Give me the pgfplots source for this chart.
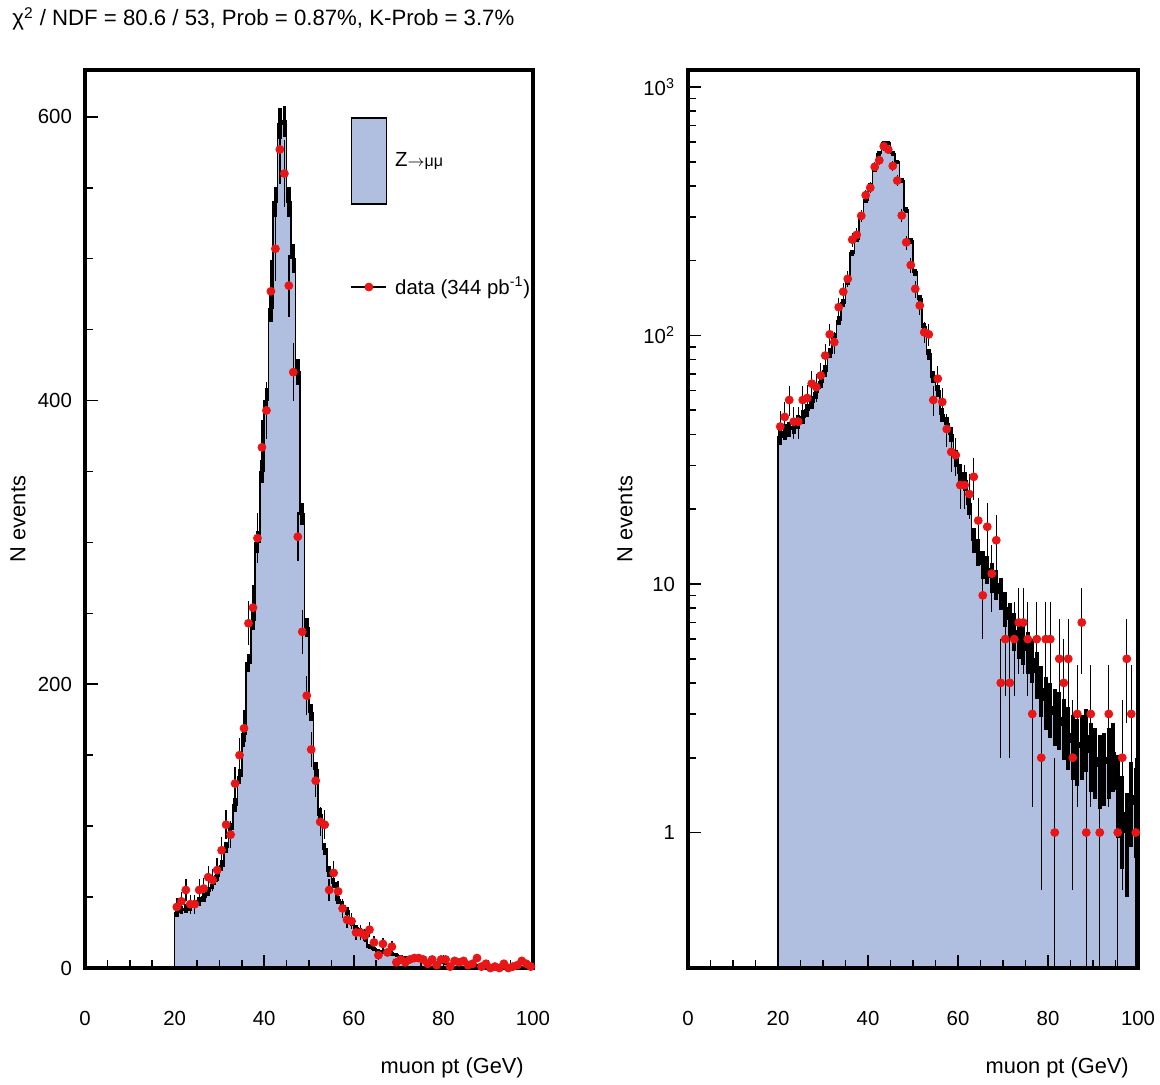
\documentclass[border=0pt]{standalone}
\usepackage{fontspec}
\setmainfont{Liberation Sans}
\usepackage{pgfplots}
\usepackage{pgfplotstable}
\pgfplotsset{compat=1.18}
\definecolor{mcblue}{RGB}{176,190,224}
\definecolor{datared}{RGB}{232,22,22}

\pgfplotstableread{
x mc data
20 39 43
21 41 47
22 42 55
23 43 45
24 45 45
25 47 55
26 50 56
27 54 64
28 59 62
29 65 69
30 72 83
31 85 101
32 98 94
33 115 130
34 135 150
35 165 169
36 215 243
37 245 254
38 300 303
39 350 367
40 400 393
41 465 477
42 540 507
43 595 577
44 597 560
45 540 481
46 500 420
47 420 304
48 320 237
49 240 192
50 180 154
51 140 132
52 108 103
53 84 101
54 68 55
55 60 67
56 48 54
57 44 42
58 40 34
59 32 33
60 28 25
61 26 25
62 21 23
63 15 27
64 13.5 18
65 12 9
66 11.5 17
67 10.7 11
68 10 15
69 9.2 4
70 8 6
71 7.2 4
72 6.5 6
73 6.1 7
74 5.8 7
75 5.4 6
76 5.0 3
77 4.4 6
78 3.8 2
79 3.4 6
80 3.2 6
81 3.0 1
82 2.9 5
83 2.7 4
84 2.5 5
85 2.3 2
86 2.2 3
87 2.3 7
88 2.45 1
89 2.1 3
90 2.0 0
91 1.85 1
92 1.9 0
93 2.0 3
94 2.1 0
95 1.5 1
96 1.2 2
97 1.0 5
98 1.4 3
99 1.3 1
100 1.3 0
}\hist

\newcommand{\lblfont}{\fontsize{10.2}{12}\selectfont}
\newcommand{\axlblfont}{\fontsize{10.9}{13}\selectfont}

\pgfplotsset{
 zstyle/.style={
  scale only axis, width=224pt, height=449pt,
  xmin=0, xmax=100, xtick={0,20,40,60,80,100}, minor x tick num=3,
  tick align=inside, xtick pos=lower, ytick pos=left,
  major tick length=6.5pt, minor tick length=4pt,
  every tick/.style={black, line width=0.8pt},
  axis line style={line width=2pt},
  axis on top,
  /pgf/number format/assume math mode=true,
  tick label style={font=\lblfont},
  xticklabel style={yshift=-18pt},
  yticklabel style={xshift=-3pt},
  label style={font=\axlblfont},
  xlabel={muon pt (GeV)},
  xlabel style={at={(axis description cs:0.995,-0.1114)}, anchor=east},
  ylabel={N events},
 },
}

\begin{document}
\begin{tikzpicture}
\useasboundingbox (0,0) rectangle (580pt,542pt);
\node[anchor=base west, font=\fontsize{11.1}{13}\selectfont, inner sep=0pt] at (6pt,529pt) {χ\textsuperscript{2} / NDF = 80.6 / 53, Prob = 0.87\%, K-Prob = 3.7\%};

\begin{axis}[zstyle, at={(42.5pt,58pt)}, anchor=south west,
  ymin=0, ymax=633, ytick={0,200,400,600}, minor y tick num=3,
  ylabel style={at={(axis description cs:-0.1496,0.5)}, anchor=center, rotate=0},
  legend style={draw=none, fill=none, at={(0.592,0.9477)}, anchor=north west,
    font=\lblfont, row sep=34pt, inner sep=0pt},
  legend cell align=left]
\addplot[const plot, fill=mcblue, draw=black, line width=0.8pt,
  legend image code/.code={\draw[fill=mcblue, draw=black, line width=0.8pt] (0pt,-21.5pt) rectangle (17.5pt,21.5pt);}]
  table[x=x, y=mc] {\hist} \closedcycle;
\addlegendentry{\hspace{2pt}Z{\fontsize{8}{9}\selectfont$\rightarrow$μμ}}
\addplot[draw=none, mark=none, forget plot, skip coords between index={80}{81},
  error bars/.cd, y dir=both, y explicit, error mark=none,
  error bar style={draw=black, line width=1.8pt}]
  table[x expr=\thisrow{x}+0.5, y=mc, y error expr={sqrt(0.2*\thisrow{mc})}] {\hist};
\addplot[only marks, mark=*, mark size=2pt, mark options={draw=datared, fill=datared},
  skip coords between index={80}{81},
  legend image code/.code={\draw[black, line width=0.8pt] (0pt,0pt) -- (17.5pt,0pt); \fill[datared] (8.75pt,0pt) circle (2pt);},
  error bars/.cd, y dir=both, y explicit, error mark=none,
  error bar style={draw=black, line width=0.7pt}]
  table[x expr=\thisrow{x}+0.5, y=data,
    y error plus expr={sqrt(\thisrow{data})},
    y error minus expr={min(sqrt(\thisrow{data}),0.995*\thisrow{data})}] {\hist};
\addlegendentry{\hspace{2pt}data (344 pb\textsuperscript{-1})}
\end{axis}

\begin{axis}[zstyle, at={(344pt,58pt)}, anchor=south west, width=225pt,
  ymode=log, ymin=0.285, ymax=1170, log origin y=infty,
  ytick={1,10,100,1000}, yticklabels={1,10,10\textsuperscript{2},10\textsuperscript{3}},
  ylabel style={at={(axis description cs:-0.14,0.5)}, anchor=center, rotate=0}]
\addplot[const plot, fill=mcblue, draw=black, line width=0.8pt]
  table[x=x, y=mc] {\hist} \closedcycle;
\addplot[draw=none, mark=none, skip coords between index={80}{81},
  error bars/.cd, y dir=both, y explicit, error mark=none,
  error bar style={draw=black, line width=1.8pt}]
  table[x expr=\thisrow{x}+0.5, y=mc, y error expr={sqrt(0.2*\thisrow{mc})}] {\hist};
\addplot[only marks, mark=*, mark size=2pt, mark options={draw=datared, fill=datared},
  skip coords between index={80}{81},
  error bars/.cd, y dir=both, y explicit, error mark=none,
  error bar style={draw=black, line width=0.7pt}]
  table[x expr=\thisrow{x}+0.5, y=data,
    y error plus expr={sqrt(\thisrow{data})},
    y error minus expr={min(sqrt(\thisrow{data}),0.995*\thisrow{data})}] {\hist};
\end{axis}
\end{tikzpicture}
\end{document}
